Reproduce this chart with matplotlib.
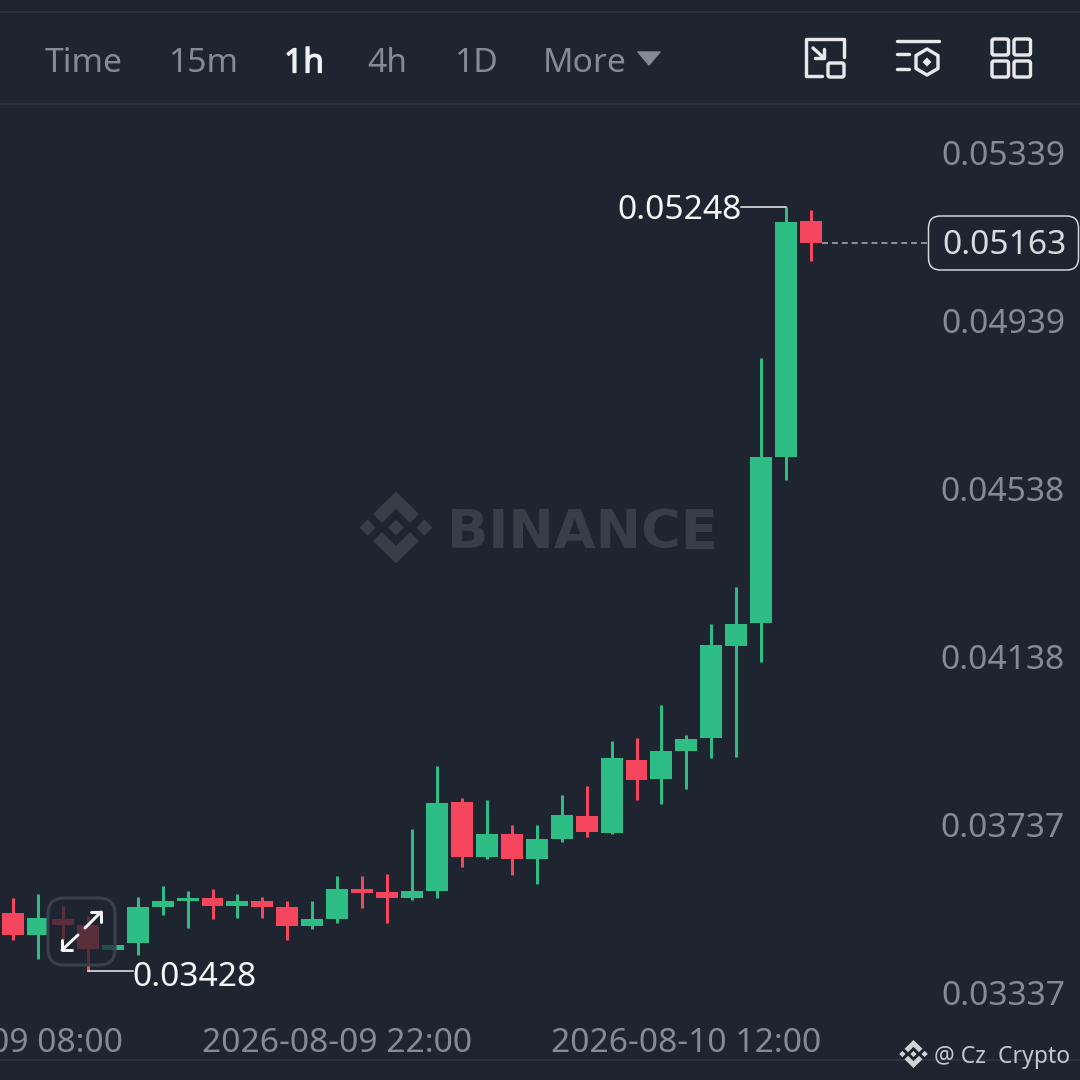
import matplotlib
matplotlib.use("Agg")
import matplotlib.pyplot as plt
import matplotlib.patheffects as pe
from matplotlib.patches import FancyBboxPatch, Polygon

opens = [0.03566, 0.03513, 0.03552, 0.03537, 0.03478, 0.03494, 0.03580, 0.03594, 0.03602, 0.03583, 0.03594,
         0.03580, 0.03535, 0.03552, 0.03623, 0.03616, 0.03602, 0.03618, 0.03830, 0.03699, 0.03754, 0.03695,
         0.03742, 0.03797, 0.03756, 0.03931, 0.03885, 0.03952, 0.03983, 0.04202, 0.04257, 0.04653, 0.05215]
closes = [0.03513, 0.03554, 0.03537, 0.03480, 0.03490, 0.03580, 0.03594, 0.03602, 0.03583, 0.03594, 0.03580,
          0.03535, 0.03552, 0.03623, 0.03613, 0.03602, 0.03618, 0.03828, 0.03699, 0.03754, 0.03695, 0.03742,
          0.03799, 0.03759, 0.03935, 0.03883, 0.03952, 0.03981, 0.04205, 0.04255, 0.04653, 0.05213, 0.05163]
highs = [0.03602, 0.03611, 0.03583, 0.03559, 0.03490, 0.03604, 0.03630, 0.03618, 0.03623, 0.03611, 0.03604,
         0.03594, 0.03594, 0.03654, 0.03654, 0.03659, 0.03766, 0.03916, 0.03840, 0.03835, 0.03776, 0.03776,
         0.03847, 0.03869, 0.03976, 0.03983, 0.04062, 0.03990, 0.04255, 0.04343, 0.04889, 0.05248, 0.05241]
lows = [0.03502, 0.03456, 0.03502, 0.03428, 0.03478, 0.03466, 0.03561, 0.03530, 0.03552, 0.03554, 0.03554,
        0.03502, 0.03528, 0.03542, 0.03578, 0.03542, 0.03597, 0.03602, 0.03675, 0.03695, 0.03656, 0.03635,
        0.03735, 0.03747, 0.03754, 0.03835, 0.03826, 0.03861, 0.03935, 0.03938, 0.04164, 0.04598, 0.05120]

price_ticks = [0.05339, 0.04939, 0.04538, 0.04138, 0.03737, 0.03337]
price_tick_labels = ["0.05339", "0.04939", "0.04538", "0.04138", "0.03737", "0.03337"]
time_tick_index = [-1, 13, 27]
time_tick_labels = ["2026-08-09 08:00", "2026-08-09 22:00", "2026-08-10 12:00"]
intervals = ["Time", "15m", "1h", "4h", "1D", "More"]
interval_x = [45, 169, 284, 367, 455, 543]
last_price = 0.05163
high_mark = (31, 0.05248, "0.05248")
low_mark = (3, 0.03428, "0.03428")

BG = "#1F2530"
GREEN = "#2EBD85"
RED = "#F6465D"
GREY = "#848B95"
ICON = "#E6E8EC"
WM = "#383E48"
FONT = "Noto Sans"
FS = 24.2

plt.rcParams["font.family"] = [FONT, "DejaVu Sans"]
fig = plt.figure(figsize=(10.8, 10.8), dpi=100, facecolor=BG)

STEP = 24.94
X0 = 13.0
PX_PER_UNIT = 41958.0


def px(n):
    return n * 72 / 100


def pixel_axes(zorder):
    a = fig.add_axes([0, 0, 1, 1], facecolor="none", zorder=zorder)
    a.set_xlim(0, 1080)
    a.set_ylim(1080, 0)
    a.axis("off")
    return a


wm_ax = pixel_axes(0)
ax = fig.add_axes([0, 0, 1, 1], facecolor="none", zorder=1)
ax.set_xlim(-X0 / STEP, (1080 - X0) / STEP)
ax.set_ylim(0.05339 - (1080 - 169) / PX_PER_UNIT, 0.05339 + 169 / PX_PER_UNIT)
ax.axis("off")
ui = pixel_axes(5)

for yy in (12, 104, 1060):
    wm_ax.axhline(yy, color="#2C323C", lw=px(2), zorder=0)


def logo(a, cx, cy, s, color, zorder=1):
    for dx in (0, -28.5, 28.5):
        a.add_patch(Polygon([(cx + dx * s, cy - 8 * s), (cx + (dx + 8) * s, cy),
                             (cx + dx * s, cy + 8 * s), (cx + (dx - 8) * s, cy)],
                            closed=True, fc=color, ec="none", zorder=zorder))
    for sign in (-1, 1):
        pts = [(0, 36), (23, 13.5), (14, 4.5), (0, 18.5), (-14, 4.5), (-23, 13.5)]
        a.add_patch(Polygon([(cx + x * s, cy + sign * y * s) for x, y in pts], closed=True,
                            fc=color, ec="none", zorder=zorder))


logo(wm_ax, 396, 527.5, 1.0, WM)
wm_ax.text(447, 527.5, "BINANCE", color=WM, fontsize=39, fontweight="bold", family="DejaVu Sans",
           ha="left", va="center_baseline", zorder=1)

# candles, from the OHLC arrays
idx = list(range(len(opens)))
colors = [RED if c < o else GREEN for o, c in zip(opens, closes)]
ax.vlines(idx, lows, highs, colors=colors, lw=px(3), zorder=3)
ax.bar(idx, [abs(c - o) for o, c in zip(opens, closes)], bottom=[min(o, c) for o, c in zip(opens, closes)],
       width=0.88, color=colors, zorder=4, linewidth=0)

# high / low markers
hi, hp, hl = high_mark
ax.plot([hi - 1.8, hi], [hp, hp], color="#F0F1F3", lw=px(1.5), zorder=5)
ax.annotate(hl, (hi - 1.8, hp), xytext=(0, -2.5), textcoords="offset points", ha="right", va="center",
            color="#F4F5F6", fontsize=FS, zorder=6)
li, lp, ll = low_mark
ax.plot([li, li + 1.8], [lp, lp], color="#F0F1F3", lw=px(1.5), zorder=5)
ax.annotate(ll, (li + 1.8, lp), xytext=(0, -5), textcoords="offset points", ha="left", va="center",
            color="#F4F5F6", fontsize=FS, zorder=6)

# last price
ax.plot([32.45, 36.7], [last_price, last_price], color="#AEB4BC", lw=px(1.5), dashes=(4, 2.6), zorder=3)
ui.add_patch(FancyBboxPatch((928.5, 216), 150, 54, boxstyle="round,pad=0,rounding_size=12",
                            fc=BG, ec="#D5D8DC", lw=px(1.5), zorder=3))
ui.text(1004, 246, f"{last_price:.5f}", color="#D8DBDF", fontsize=FS, ha="center", va="center", zorder=7)

# axes labels
for p, lab in zip(price_ticks, price_tick_labels):
    ax.annotate(lab, (1065 / 1080, p), xycoords=("axes fraction", "data"), xytext=(0, 12.5 * 0.72),
                textcoords="offset points", ha="right", va="center", color=GREY, fontsize=FS)
for i, lab in zip(time_tick_index, time_tick_labels):
    ax.annotate(lab, (i, 0), xycoords=("data", "axes fraction"), xytext=(0, 37 * 0.72),
                textcoords="offset points", ha="center", va="center", color=GREY, fontsize=FS)

# interval bar
for x, lab in zip(interval_x, intervals):
    active = lab == "1h"
    t = ui.text(x, 60, lab, color="#F0F1F3" if active else GREY, fontsize=FS, ha="left", va="center_baseline")
    if active:
        t.set_path_effects([pe.withStroke(linewidth=0.9, foreground="#F0F1F3")])
ui.add_patch(Polygon([(638, 52), (660, 52), (649, 65)], closed=True, fc=GREY, ec=GREY, lw=1, joinstyle="round"))


def pl(xs, ys, lw=3.4, color=ICON, zorder=4):
    ui.plot(xs, ys, color=color, lw=px(lw), solid_capstyle="round", solid_joinstyle="round", zorder=zorder)


pl([822, 806, 806, 844, 844], [76, 76, 39, 39, 57])
ui.add_patch(FancyBboxPatch((828, 63), 16, 14, boxstyle="round,pad=0,rounding_size=2", fc="none", ec=ICON, lw=px(3.4)))
pl([813, 824], [48, 58])
pl([815, 824, 824], [58, 58, 49])
pl([897, 939], [41, 41])
pl([897, 909], [54, 54])
pl([897, 909], [69, 69])
ui.add_patch(Polygon([(927, 49), (938, 55.5), (938, 68.5), (927, 75), (916, 68.5), (916, 55.5)], closed=True,
                     fc="none", ec=ICON, lw=px(3.4), joinstyle="round"))
ui.add_patch(Polygon([(927, 57.5), (931.5, 62), (927, 66.5), (922.5, 62)], closed=True, fc=ICON, ec="none"))
for x0, y0 in ((992, 39), (1014, 39), (992, 61), (1014, 61)):
    ui.add_patch(FancyBboxPatch((x0, y0), 16.5, 16, boxstyle="round,pad=0,rounding_size=2", fc="none", ec=ICON,
                                lw=px(3.4)))

# expand button
ui.add_patch(FancyBboxPatch((48, 898), 67, 67, boxstyle="round,pad=0,rounding_size=16", fc=BG, alpha=0.72,
                            ec="none", zorder=1))
ui.add_patch(FancyBboxPatch((48, 898), 67, 67, boxstyle="round,pad=0,rounding_size=16", fc="none",
                            ec="#3B414B", lw=px(3), zorder=2))
pl([85, 101], [928, 912], lw=3, color="#F4F5F6")
pl([91, 101, 101], [912, 912, 922], lw=3, color="#F4F5F6")
pl([78, 62], [935, 950], lw=3, color="#F4F5F6")
pl([62, 62, 72], [940, 950, 950], lw=3, color="#F4F5F6")

# credit
logo(ui, 913.5, 1054, 0.39, "#D0D3D8", zorder=4)
ui.text(934, 1054, "@ Cz  Crypto", color="#C4C8CE", fontsize=16.5, ha="left", va="center_baseline", zorder=4)

fig.savefig("out.png", dpi=100, facecolor=BG)
